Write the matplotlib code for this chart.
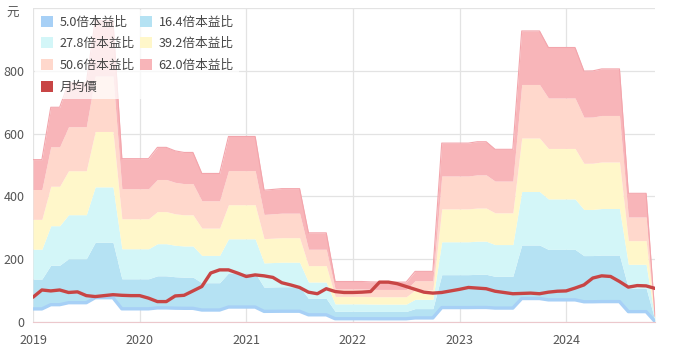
import numpy as np
import matplotlib
matplotlib.use('Agg')
import matplotlib.pyplot as plt
from matplotlib.patches import Patch

plt.rcParams['font.family'] = ['Noto Sans CJK TC', 'DejaVu Sans']

# monthly data, Jan 2019 .. Nov 2024
years = ['2019', '2020', '2021', '2022', '2023', '2024']
pe_ratios = [5.0, 16.4, 27.8, 39.2, 50.6, 62.0]
pe_labels = ['5.0倍本益比', '16.4倍本益比', '27.8倍本益比', '39.2倍本益比', '50.6倍本益比', '62.0倍本益比']
pe_colors = ['#a7d0f6', '#b5e2f3', '#d3f6f8', '#fff7ca', '#ffd8cc', '#f8b5b9']

eps = [
    8.34, 8.34, 11.03, 11.03, 12.29, 12.29, 12.29, 15.48, 15.48, 15.48, 8.39, 8.39,
    8.39, 8.39, 8.97, 8.97, 8.79, 8.71, 8.71, 7.63, 7.63, 7.63, 9.53, 9.53,
    9.53, 9.53, 6.77, 6.81, 6.85, 6.85, 6.85, 4.58, 4.58, 4.58, 2.08, 2.08,
    2.08, 2.08, 2.06, 2.05, 2.05, 2.05, 2.05, 2.60, 2.60, 2.60, 9.19, 9.19,
    9.19, 9.19, 9.26, 9.26, 8.87, 8.87, 8.87, 14.95, 14.95, 14.95, 14.10, 14.10,
    14.10, 14.10, 12.89, 12.90, 13.00, 13.00, 13.00, 6.61, 6.61, 6.61, 0.30,
]

price = [
    79, 102, 99, 102, 94, 96, 84, 81, 84, 87, 85, 84,
    84, 76, 65, 65, 83, 85, 99, 113, 156, 166, 166, 156,
    145, 150, 147, 142, 125, 118, 110, 95, 90, 106, 97, 94,
    94, 95, 97, 127, 127, 122, 113, 104, 95, 92, 94, 99,
    104, 110, 108, 106, 98, 94, 90, 91, 92, 90, 95, 98,
    99, 108, 118, 140, 147, 145, 129, 111, 116, 115, 107,
]

eps = np.array(eps)
x = np.arange(len(eps))
bands = [pe * eps for pe in pe_ratios]

fig = plt.figure(figsize=(6.77, 3.5), dpi=100)
ax = fig.add_axes([33 / 677, 1 - 322 / 350, (655 - 33) / 677, (322 - 8) / 350])

# 5x band is only a line, the rest fill between neighbouring bands
ax.plot(x, bands[0], color=pe_colors[0], lw=2.4, zorder=3)
for i in range(1, len(bands)):
    ax.fill_between(x, bands[i - 1], bands[i], color=pe_colors[i], lw=0, zorder=2)
ax.plot(x, bands[-1], color='#f3a5ac', lw=0.8, zorder=2)

ax.plot(x, price, color='#c84545', lw=2.4, zorder=5, solid_capstyle='round')

ax.set_xlim(0, len(eps) - 1)
ax.set_ylim(0, 1000)
ax.set_xticks(np.arange(0, len(eps), 12))
ax.set_xticklabels(years)
ax.set_yticks(np.arange(0, 1001, 200))
ax.set_yticklabels(['0', '200', '400', '600', '800', ''])
ax.tick_params(axis='both', length=0, labelsize=9, colors='#555555')
ax.tick_params(axis='x', pad=9)
ax.tick_params(axis='y', pad=6)
ax.grid(True, color='#e3e3e3', lw=0.9, zorder=0)
ax.set_axisbelow(True)
for s in ['top', 'right', 'left']:
    ax.spines[s].set_visible(False)
ax.spines['bottom'].set_color('#ecc8cc')
ax.spines['bottom'].set_zorder(6)

fig.text(13 / 677, 1 - 13 / 350, '元', ha='center', va='center', fontsize=9, color='#555555')

handles = {lab: Patch(facecolor=c, edgecolor='none') for lab, c in zip(pe_labels, pe_colors)}
handles['月均價'] = Patch(facecolor='#c84545', edgecolor='none')
order = ['5.0倍本益比', '27.8倍本益比', '50.6倍本益比', '月均價', '16.4倍本益比', '39.2倍本益比', '62.0倍本益比']
leg = fig.legend([handles[k] for k in order], order, loc='upper left',
                 bbox_to_anchor=(35 / 677, 1 - 10 / 350), ncol=2, fontsize=9.1,
                 frameon=True, fancybox=False, borderpad=0.45, borderaxespad=0,
                 handlelength=0.95, handleheight=0.95, handletextpad=0.55,
                 labelspacing=0.68, columnspacing=0.4, labelcolor='#444444')
leg.get_frame().set_facecolor('white')
leg.get_frame().set_alpha(0.75)
leg.get_frame().set_edgecolor('none')

fig.savefig('out.png', dpi=100)
